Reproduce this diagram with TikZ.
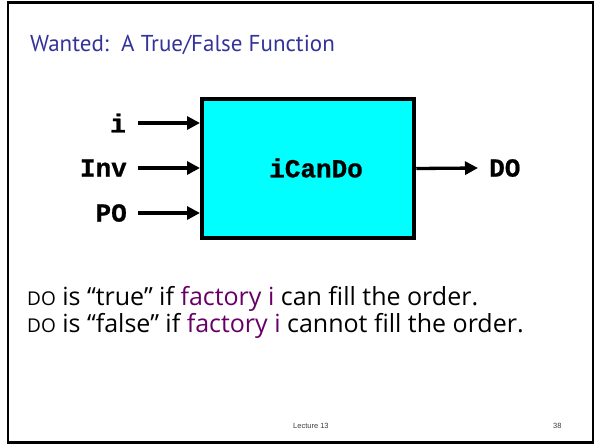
\documentclass[tikz,border=0pt]{standalone}
\usepackage{fontspec}
\setmainfont{PT Sans}[Ligatures=NoCommon]
\newfontfamily\codefont{Liberation Mono}[BoldFeatures={FakeBold=0.8}]
\newfontfamily\bodyfont{Open Sans}
\newfontfamily\footfont{Liberation Sans}
\usetikzlibrary{arrows.meta}
\definecolor{titleblue}{RGB}{51,51,153}
\definecolor{boxcyan}{RGB}{0,255,255}
\definecolor{factpurple}{RGB}{102,0,102}
\definecolor{footgray}{RGB}{60,60,60}
\newcommand{\smallDO}{{\fontsize{19}{22}\selectfont DO}}
\tikzset{
  frame/.style={draw=black, line width=2.5pt},
  blockbox/.style={draw=black, fill=boxcyan, line width=4.5pt},
  sig/.style={line width=3.3pt, -{Triangle[length=13pt,width=13pt]}},
  pin/.style={font=\codefont\bfseries\fontsize{26}{28}\selectfont, inner sep=0pt},
  bodyline/.style={font=\bodyfont\fontsize{25}{28}\selectfont, anchor=base west, inner sep=0pt},
}
\begin{document}
\begin{tikzpicture}[x=1pt,y=-1pt]
\useasboundingbox (0,0) rectangle (596,445);
% slide frame
\draw[frame] (8,2.5) rectangle (593,442.5);
% title
\node[anchor=base west, inner sep=0pt, text=titleblue, font=\fontsize{23}{27}\selectfont] (title) at (30,51) {Wanted:\ \ A True/False Function};
% the block
\node[blockbox, minimum width=212pt, minimum height=139pt, inner sep=0pt] (blk) at (308,168.5) {};
\node[pin] (name) at (316,168) {iCanDo};
% input pins
\coordinate (ini) at (200,123);
\coordinate (ininv) at (200,168);
\coordinate (inpo) at (200,213);
\node[pin, anchor=east] (li) at (126,123) {i};
\node[pin, anchor=east] (linv) at (127,168) {Inv};
\node[pin, anchor=east] (lpo) at (127,213) {PO};
\draw[sig] (138,123) -- (ini);
\draw[sig] (138,168) -- (ininv);
\draw[sig] (138,213) -- (inpo);
% output pin
\node[pin, anchor=west] (ldo) at (489,168) {DO};
\draw[sig] (blk.east) -- (ldo.west -| 478,0);
% statements
\node[bodyline] (s1) at (27,305) {\smallDO{} is \textquotedblleft true\textquotedblright{} if \textcolor{factpurple}{factory i} can fill the order.};
\node[bodyline] (s2) at (27,332) {\smallDO{} is \textquotedblleft false\textquotedblright{} if \textcolor{factpurple}{factory i} cannot fill the order.};
% footer
\node[anchor=base west, inner sep=0pt, text=footgray, font=\footfont\fontsize{7.5}{9}\selectfont] (lec) at (293,428) {Lecture 13};
\node[anchor=base west, inner sep=0pt, text=footgray, font=\footfont\fontsize{7.5}{9}\selectfont] (pg) at (553,428) {38};
\end{tikzpicture}
\end{document}
